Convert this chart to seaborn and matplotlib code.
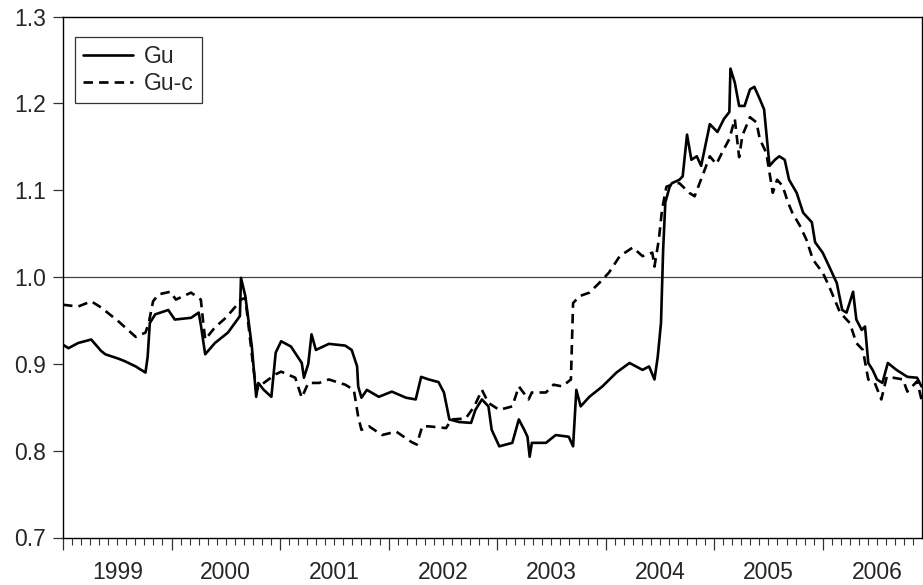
import numpy as np
import pandas as pd
import matplotlib
matplotlib.use("Agg")
import matplotlib.pyplot as plt
from matplotlib.ticker import MultipleLocator
import seaborn as sns

# -----------------------------
# Data (time in decimal years)
# -----------------------------
gu_t = [1999.00, 1999.05, 1999.14, 1999.26, 1999.35, 1999.39, 1999.51, 1999.57, 1999.67, 1999.72,
        1999.76, 1999.78, 1999.80, 1999.85, 1999.97, 2000.03, 2000.18, 2000.25, 2000.27, 2000.31,
        2000.40, 2000.52, 2000.63, 2000.64, 2000.68, 2000.74, 2000.78, 2000.80, 2000.85, 2000.92,
        2000.96, 2001.01, 2001.10, 2001.20, 2001.22, 2001.26, 2001.29, 2001.33, 2001.45, 2001.60,
        2001.66, 2001.71, 2001.72, 2001.75, 2001.80, 2001.91, 2002.03, 2002.16, 2002.25, 2002.30,
        2002.37, 2002.46, 2002.51, 2002.56, 2002.65, 2002.76, 2002.80, 2002.86, 2002.92, 2002.95,
        2003.02, 2003.14, 2003.20, 2003.25, 2003.28, 2003.30, 2003.32, 2003.45, 2003.54, 2003.66,
        2003.70, 2003.73, 2003.77, 2003.85, 2003.97, 2004.10, 2004.22, 2004.34, 2004.40, 2004.45,
        2004.48, 2004.51, 2004.53, 2004.55, 2004.59, 2004.61, 2004.68, 2004.71, 2004.75, 2004.79,
        2004.84, 2004.88, 2004.96, 2005.03, 2005.09, 2005.14, 2005.15, 2005.19, 2005.23, 2005.28,
        2005.33, 2005.37, 2005.42, 2005.46, 2005.48, 2005.51, 2005.56, 2005.60, 2005.65, 2005.69,
        2005.76, 2005.82, 2005.90, 2005.93, 2006.00, 2006.06, 2006.13, 2006.18, 2006.22, 2006.28,
        2006.31, 2006.36, 2006.39, 2006.42, 2006.46, 2006.50, 2006.55, 2006.60, 2006.68, 2006.78,
        2006.87, 2006.91]
gu_v = [0.922, 0.918, 0.924, 0.928, 0.915, 0.911, 0.906, 0.903, 0.897, 0.893,
        0.890, 0.908, 0.947, 0.957, 0.962, 0.951, 0.953, 0.959, 0.945, 0.911,
        0.924, 0.936, 0.955, 0.999, 0.978, 0.920, 0.862, 0.878, 0.870, 0.862,
        0.913, 0.926, 0.920, 0.901, 0.884, 0.900, 0.934, 0.916, 0.923, 0.921,
        0.916, 0.897, 0.874, 0.861, 0.870, 0.862, 0.868, 0.861, 0.859, 0.885,
        0.882, 0.879, 0.867, 0.836, 0.833, 0.832, 0.847, 0.859, 0.851, 0.824,
        0.805, 0.809, 0.836, 0.824, 0.816, 0.793, 0.809, 0.809, 0.818, 0.816,
        0.805, 0.870, 0.851, 0.862, 0.874, 0.890, 0.901, 0.893, 0.897, 0.882,
        0.908, 0.947, 1.032, 1.086, 1.104, 1.108, 1.112, 1.116, 1.164, 1.135,
        1.139, 1.128, 1.176, 1.167, 1.182, 1.190, 1.240, 1.224, 1.197, 1.197,
        1.216, 1.219, 1.205, 1.193, 1.167, 1.128, 1.135, 1.139, 1.135, 1.112,
        1.097, 1.074, 1.063, 1.040, 1.028, 1.012, 0.993, 0.962, 0.959, 0.983,
        0.951, 0.939, 0.943, 0.901, 0.893, 0.882, 0.878, 0.901, 0.893, 0.885,
        0.884, 0.874]

guc_t = [1999.00, 1999.14, 1999.26, 1999.35, 1999.51, 1999.67, 1999.76, 1999.79, 1999.83, 1999.88,
         1999.99, 2000.04, 2000.18, 2000.27, 2000.29, 2000.31, 2000.40, 2000.50, 2000.59, 2000.64,
         2000.68, 2000.75, 2000.78, 2000.85, 2000.96, 2001.01, 2001.14, 2001.20, 2001.26, 2001.36,
         2001.45, 2001.60, 2001.68, 2001.72, 2001.75, 2001.82, 2001.94, 2002.07, 2002.21, 2002.26,
         2002.31, 2002.37, 2002.53, 2002.58, 2002.71, 2002.79, 2002.86, 2002.92, 2003.02, 2003.14,
         2003.20, 2003.29, 2003.32, 2003.45, 2003.52, 2003.60, 2003.68, 2003.70, 2003.76, 2003.85,
         2003.94, 2004.03, 2004.13, 2004.25, 2004.34, 2004.43, 2004.45, 2004.49, 2004.52, 2004.56,
         2004.65, 2004.68, 2004.77, 2004.82, 2004.89, 2004.96, 2005.02, 2005.08, 2005.14, 2005.19,
         2005.23, 2005.26, 2005.33, 2005.39, 2005.42, 2005.48, 2005.54, 2005.58, 2005.63, 2005.68,
         2005.72, 2005.79, 2005.85, 2005.91, 2006.00, 2006.06, 2006.16, 2006.25, 2006.31, 2006.37,
         2006.42, 2006.48, 2006.54, 2006.59, 2006.65, 2006.74, 2006.78, 2006.87, 2006.91]
guc_v = [0.968, 0.966, 0.972, 0.965, 0.949, 0.931, 0.936, 0.947, 0.972, 0.980,
         0.983, 0.974, 0.982, 0.974, 0.950, 0.928, 0.942, 0.953, 0.966, 0.974,
         0.976, 0.900, 0.870, 0.878, 0.888, 0.891, 0.884, 0.861, 0.878, 0.878,
         0.882, 0.876, 0.870, 0.839, 0.824, 0.828, 0.818, 0.822, 0.810, 0.807,
         0.828, 0.828, 0.826, 0.836, 0.837, 0.851, 0.870, 0.855, 0.847, 0.851,
         0.874, 0.859, 0.867, 0.867, 0.876, 0.874, 0.882, 0.970, 0.978, 0.982,
         0.993, 1.005, 1.024, 1.034, 1.024, 1.028, 1.012, 1.043, 1.078, 1.104,
         1.108, 1.108, 1.097, 1.093, 1.116, 1.139, 1.130, 1.145, 1.159, 1.182,
         1.138, 1.163, 1.184, 1.178, 1.159, 1.143, 1.097, 1.112, 1.105, 1.086,
         1.074, 1.059, 1.043, 1.020, 1.005, 0.989, 0.959, 0.947, 0.924, 0.916,
         0.882, 0.878, 0.859, 0.885, 0.884, 0.882, 0.868, 0.880, 0.859]

years = [1999, 2000, 2001, 2002, 2003, 2004, 2005, 2006]

df = pd.concat([
    pd.DataFrame({"t": gu_t, "value": gu_v, "series": "Gu"}),
    pd.DataFrame({"t": guc_t, "value": guc_v, "series": "Gu-c"}),
])

# -----------------------------
# Plot
# -----------------------------
sns.set_style("ticks")
plt.rcParams['font.family'] = ['Liberation Sans', 'DejaVu Sans']

fig = plt.figure(figsize=(9.23, 5.85), dpi=100)
ax = fig.add_axes([63 / 923, 47.5 / 585, 859 / 923, 521 / 585])

sns.lineplot(data=df, x="t", y="value", style="series", color="black",
             dashes={"Gu": "", "Gu-c": (3.6, 2.3)}, estimator=None, sort=False,
             linewidth=1.9, ax=ax)

ax.axhline(1.0, color="#444444", linewidth=0.9, zorder=0)

ax.set_xlim(1999.0, 2006.915)
ax.set_ylim(0.7, 1.3)
ax.set_xlabel("")
ax.set_ylabel("")

for side in ["top", "right", "bottom", "left"]:
    ax.spines[side].set_visible(True)
    ax.spines[side].set_color("black")
    ax.spines[side].set_linewidth(1.0)

# y axis
ax.set_yticks([0.7, 0.8, 0.9, 1.0, 1.1, 1.2, 1.3])
ax.set_yticklabels(["0.7", "0.8", "0.9", "1.0", "1.1", "1.2", "1.3"])
ax.tick_params(axis="y", direction="out", length=7, width=0.9, labelsize=16.5, pad=5, color="#333333")

# x axis: year boundaries + monthly minor ticks, labels centred in each year
ax.set_xticks(years)
ax.set_xticklabels([])
ax.xaxis.set_minor_locator(MultipleLocator(1 / 12))
ax.tick_params(axis="x", which="major", direction="out", length=8.5, width=0.9, color="#333333")
ax.tick_params(axis="x", which="minor", direction="out", length=5, width=0.8, color="#333333")

sec = ax.secondary_xaxis("bottom")
sec.set_xticks([y + 0.5 for y in years])
sec.set_xticklabels([str(y) for y in years])
sec.tick_params(length=0, pad=17, labelsize=16.5)
sec.spines["bottom"].set_visible(False)

# legend
leg = ax.legend(loc="upper left", bbox_to_anchor=(0.014, 0.96), fontsize=16.5,
                frameon=True, fancybox=False, edgecolor="black", handlelength=2.2,
                borderpad=0.35, labelspacing=0.15, handletextpad=0.45, borderaxespad=0)
leg.get_frame().set_linewidth(0.9)
leg.set_title(None)

fig.savefig("out.png", dpi=100, facecolor="white")
